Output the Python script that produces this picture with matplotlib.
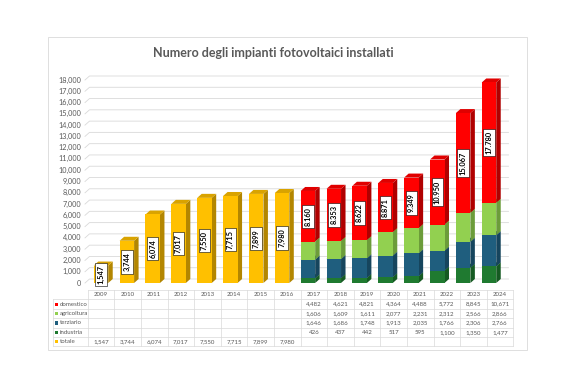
# Numero degli impianti fotovoltaici installati (2009-2024)

import matplotlib
matplotlib.use('Agg')
import matplotlib.pyplot as plt
from matplotlib.patches import Polygon, Rectangle
from matplotlib.lines import Line2D

years = [2009, 2010, 2011, 2012, 2013, 2014, 2015, 2016,
         2017, 2018, 2019, 2020, 2021, 2022, 2023, 2024]
# totale only for 2009-2016
totale = [1547, 3744, 6074, 7017, 7550, 7715, 7899, 7980]
# sector split 2017-2024
domestico = [4482, 4621, 4821, 4364, 4488, 5772, 8845, 10671]
agricoltura = [1606, 1609, 1611, 2077, 2231, 2312, 2566, 2866]
terziario = [1646, 1686, 1748, 1913, 2035, 1766, 2306, 2766]
industria = [426, 437, 442, 517, 595, 1100, 1350, 1477]

W, H = 562, 374
plt.rcParams['font.family'] = ['Lato', 'DejaVu Sans']
fig = plt.figure(figsize=(W / 100, H / 100), dpi=100)

def fx(x):
    return x / W

def fy(y):
    return 1 - y / H

# axes placed so bars sit above the data table
ax = fig.add_axes([fx(85), fy(283), fx(504 - 85), fy(80) - fy(283)])
ax.set_xlim(-0.618, 15.58)
ax.set_ylim(0, 18000)
ax.axis('off')

ddx = 4.5 / 25.9          # depth of 3d bars in x units
ddy = 4.0 / 11.28 * 1000  # depth in y units
bw = 0.56

# back wall grid lines
for v in range(0, 18001, 1000):
    x0, x1 = -0.618, 15.58
    ax.plot([x0, x0 + ddx, x1 + ddx], [v, v + ddy, v + ddy],
            color='#d9d9d9', lw=0.6, zorder=0, clip_on=False)
    ax.text(x0 - 0.15, v, f'{v:,}', ha='right', va='center',
            fontsize=5.2, color='#595959')

def bar3d(xc, y0, y1, front, side, top, z):
    l, r = xc - bw / 2, xc + bw / 2
    ax.add_patch(Polygon([(r, y0), (r + ddx, y0 + ddy), (r + ddx, y1 + ddy), (r, y1)],
                         closed=True, fc=side, ec='none', zorder=z, clip_on=False))
    ax.add_patch(Polygon([(l, y1), (l + ddx, y1 + ddy), (r + ddx, y1 + ddy), (r, y1)],
                         closed=True, fc=top, ec='none', zorder=z, clip_on=False))
    ax.add_patch(Rectangle((l, y0), bw, y1 - y0, fc=front, ec='none',
                           zorder=z + 0.5, clip_on=False))

lbl_box = dict(boxstyle='square,pad=0.3', fc='white', ec='black', lw=0.4)

for i, t in enumerate(totale):
    bar3d(i, 0, t, '#ffc000', '#b38600', '#d9a300', 2 + i)
    ax.text(i, t / 2, f'{t:,}', rotation=90, ha='center', va='center',
            fontsize=5.3, fontweight='bold', bbox=lbl_box, zorder=40)

cols = [('#1f7a30', '#155a22', '#196a28'),
        ('#1f5e7e', '#16455d', '#1b536f'),
        ('#92d050', '#6c9c3a', '#84bd48'),
        ('#ff0000', '#b00000', '#e00000')]
for j in range(len(domestico)):
    i = j + 8
    segs = [industria[j], terziario[j], agricoltura[j], domestico[j]]
    base = 0
    for s, (fc, sc, tc) in zip(segs, cols):
        bar3d(i, base, base + s, fc, sc, tc, 2 + i)
        base += s
    tot = base
    lab = f'{tot:,}'.replace(',', '.')
    ax.text(i, tot - domestico[j] / 2, lab, rotation=90, ha='center', va='center',
            fontsize=5.3, fontweight='bold', bbox=lbl_box, zorder=40)

# title
fig.text(fx(273), fy(53), 'Numero degli impianti fotovoltaici installati',
         ha='center', va='center', fontsize=9, fontweight='bold', color='#595959')

# data table
gc = '#d9d9d9'
cx0, cw = 87.7, 26.6
rows = [290, 299.4, 308.8, 318.2, 327.6, 337, 346.4]
xr = cx0 + cw * len(years)

def hline(y, xa, xb):
    fig.add_artist(Line2D([fx(xa), fx(xb)], [fy(y), fy(y)], color=gc, lw=0.5))

def vline(x, ya, yb):
    fig.add_artist(Line2D([fx(x), fx(x)], [fy(ya), fy(yb)], color=gc, lw=0.5))

hline(rows[0], cx0, xr)
for y in rows[1:]:
    hline(y, 53, xr)
vline(53, rows[1], rows[-1])
for k in range(len(years) + 1):
    vline(cx0 + cw * k, rows[0], rows[-1])

def rowy(r):
    return (rows[r] + rows[r + 1]) / 2

for k, yr in enumerate(years):
    fig.text(fx(cx0 + cw * (k + 0.5)), fy(rowy(0)), str(yr), ha='center',
             va='center', fontsize=4.4, color='#595959')

series = [('domestico', '#ff0000', domestico, 8),
          ('agricoltura', '#92d050', agricoltura, 8),
          ('terziario', '#1f5e7e', terziario, 8),
          ('industria', '#1f7a30', industria, 8),
          ('totale', '#ffc000', totale, 0)]
for r, (name, c, vals, start) in enumerate(series, start=1):
    yc = rowy(r)
    fig.add_artist(Rectangle((fx(55), fy(yc + 1.6)), fx(3.2), fy(0) - fy(3.2),
                             transform=fig.transFigure, fc=c, ec='none'))
    fig.text(fx(60), fy(yc), name, ha='left', va='center', fontsize=4.4, color='#595959')
    for k, v in enumerate(vals):
        fig.text(fx(cx0 + cw * (start + k + 0.5)), fy(yc), f'{v:,}', ha='center',
                 va='center', fontsize=4.4, color='#595959')

# chart area border
fig.add_artist(Rectangle((fx(48), fy(350)), fx(527 - 48), fy(37) - fy(350),
                         transform=fig.transFigure, fc='none', ec='#d9d9d9', lw=0.6))

fig.savefig('out.png', dpi=100)
